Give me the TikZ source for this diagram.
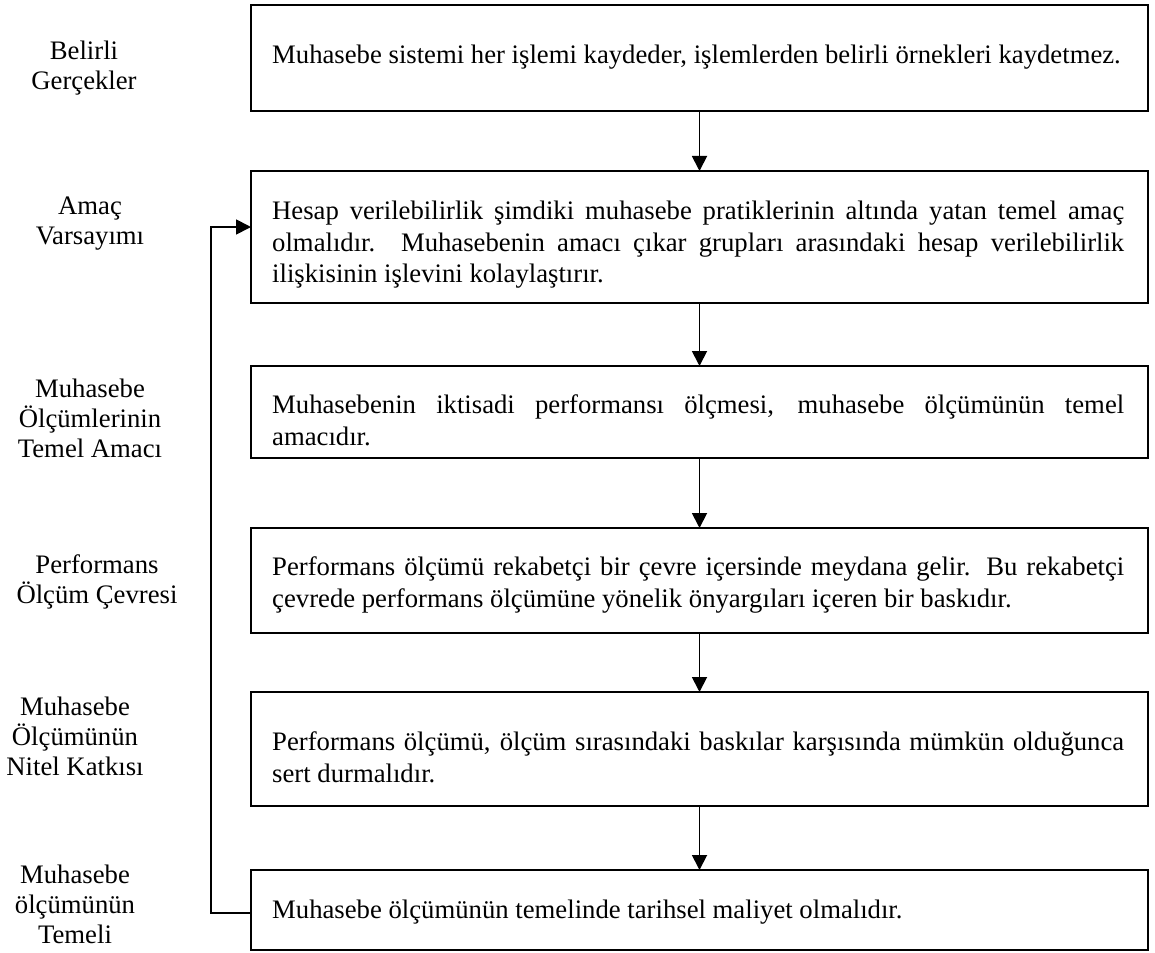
\documentclass[tikz,border=0pt]{standalone}
\usepackage{fontspec}
\setmainfont{Liberation Serif}
\usetikzlibrary{arrows.meta}
\newcommand{\jl}[1]{\makebox[852pt][s]{#1}}
\newcommand{\topstrut}{\rule{0pt}{30pt}}
\tikzset{
  boxnode/.style={draw, line width=1.8pt, minimum width=897pt, anchor=north west, inner sep=0pt, outer sep=0pt},
  boxtext/.style={anchor=north west, inner sep=0pt, align=left, font=\fontsize{26.7}{31.8}\selectfont},
  lbl/.style={anchor=north, inner sep=0pt, align=center, font=\fontsize{26.7}{30}\selectfont},
  arr/.style={line width=1.8pt, -{Triangle[length=15pt,width=15pt]}}
}
\begin{document}
\begin{tikzpicture}[x=1pt,y=-1pt]
\useasboundingbox (0,0) rectangle (1155,952);
% boxes
\node[boxnode, minimum height=106pt] (b1) at (251,5) {};
\node[boxnode, minimum height=132pt] (b2) at (251,171) {};
\node[boxnode, minimum height=92pt] (b3) at (251,366) {};
\node[boxnode, minimum height=105pt] (b4) at (251,528) {};
\node[boxnode, minimum height=114pt] (b5) at (251,692) {};
\node[boxnode, minimum height=80pt] (b6) at (251,870) {};
% box texts
\node[boxtext] (t1) at (272,33) {\topstrut Muhasebe sistemi her işlemi kaydeder, işlemlerden belirli örnekleri kaydetmez.};
\node[boxtext] (t2) at (272,189) {\topstrut\jl{Hesap verilebilirlik şimdiki muhasebe pratiklerinin altında yatan temel amaç}\\
\jl{olmalıdır. Muhasebenin amacı çıkar grupları arasındaki hesap verilebilirlik}\\
ilişkisinin işlevini kolaylaştırır.};
\node[boxtext] (t3) at (272,383) {\topstrut\jl{Muhasebenin iktisadi performansı ölçmesi, muhasebe ölçümünün temel}\\
amacıdır.};
\node[boxtext] (t4) at (272,545) {\topstrut\jl{Performans ölçümü rekabetçi bir çevre içersinde meydana gelir. Bu rekabetçi}\\
çevrede performans ölçümüne yönelik önyargıları içeren bir baskıdır.};
\node[boxtext] (t5) at (272,720) {\topstrut\jl{Performans ölçümü, ölçüm sırasındaki baskılar karşısında mümkün olduğunca}\\
sert durmalıdır.};
\node[boxtext] (t6) at (272,888) {\topstrut Muhasebe ölçümünün temelinde tarihsel maliyet olmalıdır.};
% labels
\node[lbl] (l1) at (84,29) {\topstrut Belirli\\Gerçekler};
\node[lbl] (l2) at (90,184) {\topstrut Amaç\\Varsayımı};
\node[lbl] (l3) at (90,367) {\topstrut Muhasebe\\Ölçümlerinin\\Temel Amacı};
\node[lbl] (l4) at (97,543) {\topstrut Performans\\Ölçüm Çevresi};
\node[lbl] (l5) at (75,685) {\topstrut Muhasebe\\Ölçümünün\\Nitel Katkısı};
\node[lbl] (l6) at (75,853) {\topstrut Muhasebe\\ölçümünün\\Temeli};
% connectors
\draw[arr] (b1.south) -- (b2.north);
\draw[arr] (b2.south) -- (b3.north);
\draw[arr] (b3.south) -- (b4.north);
\draw[arr] (b4.south) -- (b5.north);
\draw[arr] (b5.south) -- (b6.north);
\draw[arr] ([yshift=-3pt]b6.west) -- ++(-40,0) |- ([yshift=10pt]b2.west);
\end{tikzpicture}
\end{document}
